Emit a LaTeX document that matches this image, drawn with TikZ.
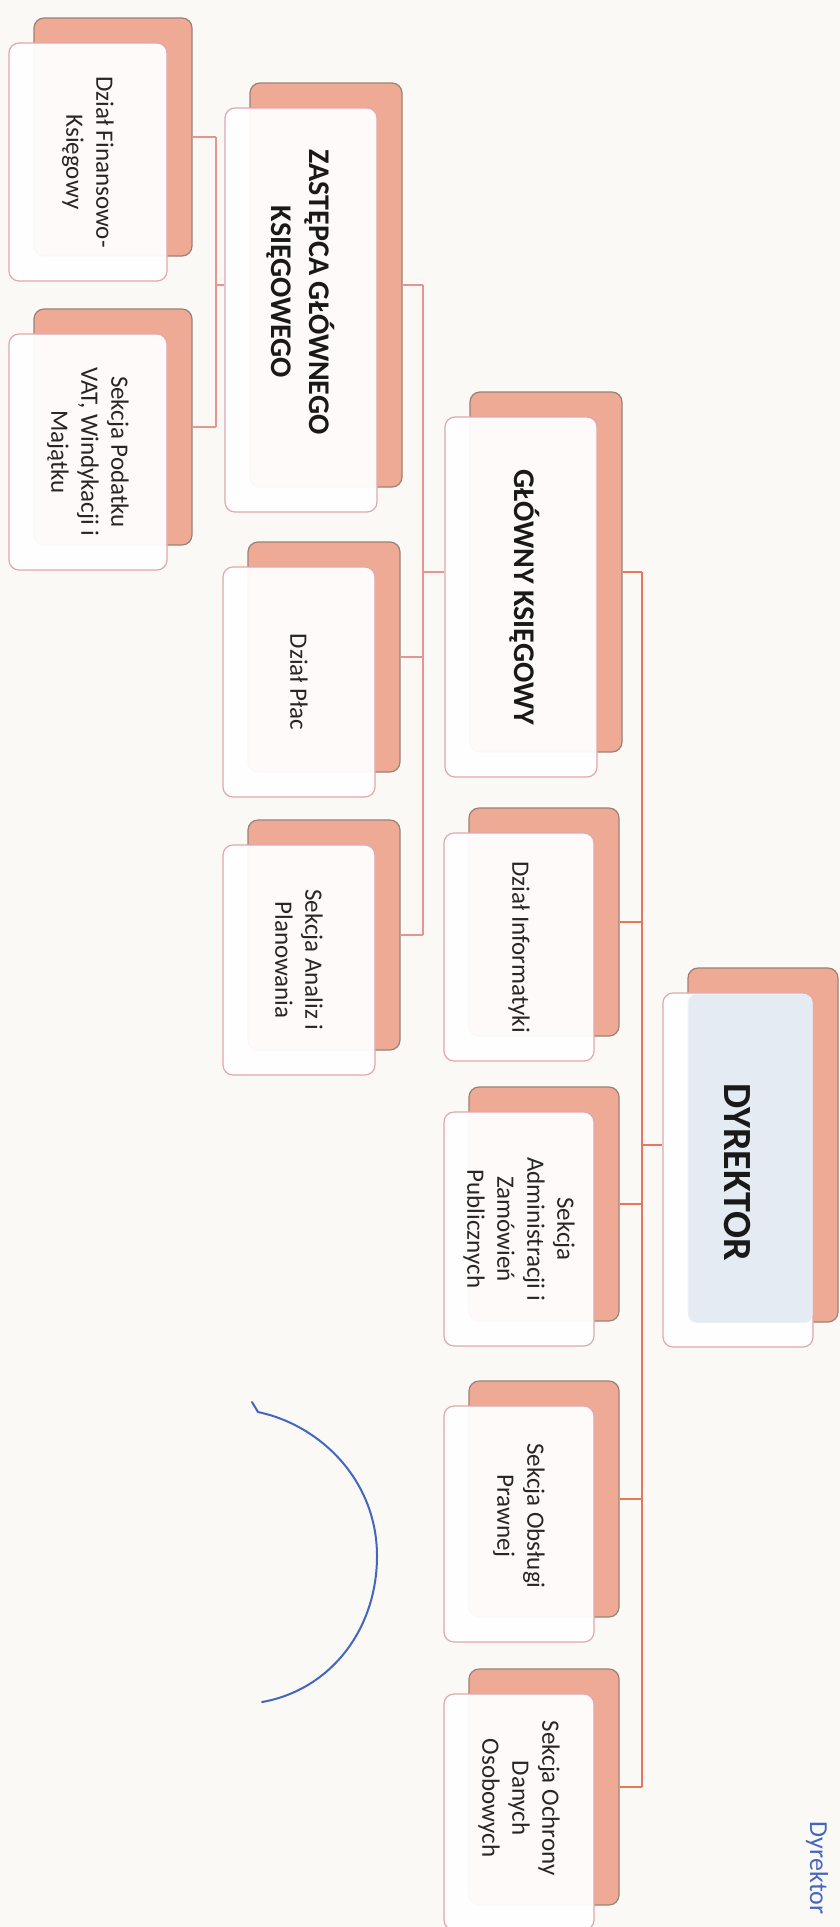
\documentclass[tikz,border=0pt]{standalone}
\usepackage{fontspec}
\setmainfont{Carlito}
\usepackage{tikz}
\usetikzlibrary{calc, positioning}
\definecolor{paper}{HTML}{FBF9F5}
\definecolor{backfill}{HTML}{EFAA95}
\definecolor{backline}{HTML}{9B8175}
\definecolor{frontline}{HTML}{E2A7AC}
\definecolor{linkc}{HTML}{E79590}
\definecolor{dirlink}{HTML}{E8765F}
\definecolor{dirblue}{HTML}{E4EBF3}
\definecolor{penblue}{HTML}{4466C0}

\begin{document}
\begin{tikzpicture}[x=0.5pt, y=-0.5pt,
    sz/.style 2 args={minimum width=#1pt, minimum height=#2pt},
    backbox/.style={draw=backline, fill=backfill, rounded corners=5pt, line width=0.6pt, inner sep=0pt},
    frontbox/.style={draw=frontline, fill=white, fill opacity=0.95, rounded corners=5pt, line width=0.6pt, inner sep=0pt},
    txt/.style={rotate=-90, align=center, text=black!85, font=\fontsize{12.5}{15}\selectfont},
    headtxt/.style={rotate=-90, align=center, text=black!90, font=\bfseries\fontsize{15}{19}\selectfont},
    link/.style={draw=linkc, line width=0.8pt},
    dirline/.style={draw=dirlink, line width=1pt},
    pen/.style={draw=penblue, line width=1pt, line cap=round}
]
% paper
\fill[paper] (0,0) rectangle (840,1927);
\useasboundingbox (0,0) rectangle (840,1927);

% dyrektor
\node[backbox, sz={75}{177}] (dyr-b) at (763,1145) {};
\node[frontbox, sz={75}{177}] (dyr) at (738,1170) {};
\fill[dirblue, rounded corners=4pt] (dyr-b.west |- dyr.north) ++(1,2) rectangle ($(dyr.east |- dyr-b.south)+(-1,0)$);
\node[headtxt, font=\bfseries\fontsize{20}{24}\selectfont] (dyr-t) at (737,1172) {DYREKTOR};

% second column
\node[backbox, sz={76}{180}] (gk-b) at (546,572) {};
\node[frontbox, sz={76}{180}] (gk) at (521,597) {};
\node[headtxt] (gk-t) at (525,597) {GŁÓWNY KSIĘGOWY};

\node[backbox, sz={75}{114}] (inf-b) at (544,922) {};
\node[frontbox, sz={75}{114}] (inf) at (519,947) {};
\node[txt] (inf-t) at (inf) {Dział Informatyki};

\node[backbox, sz={75}{117}] (adm-b) at (544,1204) {};
\node[frontbox, sz={75}{117}] (adm) at (519,1229) {};
\node[txt] (adm-t) at (adm) {Sekcja\\Administracji i\\Zamówień\\Publicznych};

\node[backbox, sz={75}{118}] (praw-b) at (544,1499) {};
\node[frontbox, sz={75}{118}] (praw) at (519,1524) {};
\node[txt] (praw-t) at (519,1516) {Sekcja Obsługi\\Prawnej};

\node[backbox, sz={75}{118}] (och-b) at (544,1787) {};
\node[frontbox, sz={75}{118}] (och) at (519,1812) {};
\node[txt] (och-t) at (519,1798) {Sekcja Ochrony\\Danych\\Osobowych};

% third column
\node[backbox, sz={76}{202}] (zg-b) at (326,285) {};
\node[frontbox, sz={76}{202}] (zg) at (301,310) {};
\node[headtxt] (zg-t) at (301,292) {ZASTĘPCA GŁÓWNEGO\\KSIĘGOWEGO};

\node[backbox, sz={76}{115}] (plac-b) at (324,657) {};
\node[frontbox, sz={76}{115}] (plac) at (299,682) {};
\node[txt] (plac-t) at (plac) {Dział Płac};

\node[backbox, sz={76}{115}] (anl-b) at (324,935) {};
\node[frontbox, sz={76}{115}] (anl) at (299,960) {};
\node[txt] (anl-t) at (anl) {Sekcja Analiz i\\Planowania};

% fourth column
\node[backbox, sz={79}{119}] (fin-b) at (113,137) {};
\node[frontbox, sz={79}{119}] (fin) at (88,162) {};
\node[txt] (fin-t) at (fin) {Dział Finansowo-\\Księgowy};

\node[backbox, sz={79}{118}] (pod-b) at (113,427) {};
\node[frontbox, sz={79}{118}] (pod) at (88,452) {};
\node[txt] (pod-t) at (pod) {Sekcja Podatku\\VAT, Windykacji i\\Majątku};

% connectors
\coordinate (dbus) at (642,1145);
\coordinate (gbus) at (423,572);
\coordinate (zbus) at (216,285);

\draw[dirline] (dyr-b.center -| dyr.west) -- (dbus);
\draw[dirline] (gk-b.east -| dbus) -- (och-b.east -| dbus);
\foreach \n in {gk,inf,adm,praw,och}
  \draw[dirline] (\n-b.east) -- (\n-b.east -| dbus);

\draw[link] (gk-b.center -| gk.west) -- (gbus);
\draw[link] (zg-b.east -| gbus) -- (anl-b.east -| gbus);
\foreach \n in {zg,plac,anl}
  \draw[link] (\n-b.east) -- (\n-b.east -| gbus);

\draw[link] (zg-b.center -| zg.west) -- (zbus);
\draw[link] (fin-b.east -| zbus) -- (pod-b.east -| zbus);
\foreach \n in {fin,pod}
  \draw[link] (\n-b.east) -- (\n-b.east -| zbus);

% pen marks
\draw[pen] (252,1402) -- (258,1412) .. controls (320,1425) and (377,1480) .. (377,1556)
  .. controls (377,1630) and (330,1690) .. (262,1702);
\node[txt, text=penblue, font=\fontsize{13}{15}\selectfont] (pen-t) at (817,1868) {Dyrektor};
\end{tikzpicture}
\end{document}
